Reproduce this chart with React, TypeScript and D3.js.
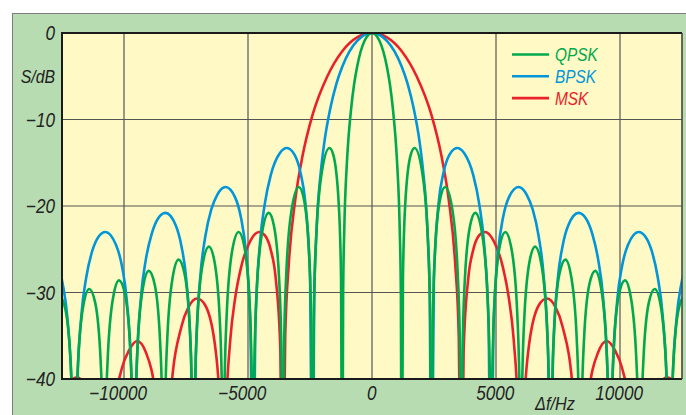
import React, { useRef, useEffect } from 'react';
import * as d3 from 'd3';

// spectra, positive half only (the chart is symmetric)
// [frequency offset in Hz, level in dB]; -60 marks a null far below the plot
const qpskHalf: [number, number][] = [
  [0, 0], [300, -0.9], [600, -3.9], [720, -5.9], [840, -8.7], [960, -12.6], [1020, -15.4], [1116, -22.5], [1164, -30.2], [1200, -60],
  [1248, -28.3], [1344, -19.6], [1560, -14.1], [1716, -13.3], [2040, -16.4], [2256, -24.1], [2352, -33.8], [2400, -60],
  [2448, -34.2], [2544, -25.2], [2760, -19.0], [2952, -17.8], [3240, -20.4], [3456, -27.8], [3552, -37.4], [3600, -60],
  [3648, -37.6], [3744, -28.5], [3960, -22.2], [4164, -20.8], [4440, -23.2], [4656, -30.4], [4752, -39.9], [4800, -60],
  [4848, -40.1], [4944, -30.9], [5160, -24.5], [5376, -23.0], [5640, -25.2], [5856, -32.4], [5952, -41.9], [6000, -60],
  [6048, -42.0], [6144, -32.8], [6360, -26.3], [6576, -24.7], [6840, -26.9], [7056, -34.0], [7152, -43.5], [7200, -60],
  [7248, -43.6], [7344, -34.4], [7560, -27.8], [7800, -26.2], [8040, -28.3], [8256, -35.4], [8352, -44.8], [8400, -60],
  [8448, -45.0], [8544, -35.7], [8760, -29.1], [9000, -27.5], [9240, -29.5], [9456, -36.6], [9552, -46.0], [9600, -60],
  [9648, -46.1], [9744, -36.8], [9960, -30.2], [10200, -28.6], [10440, -30.6], [10656, -37.6], [10752, -47.0], [10800, -60],
  [10848, -47.1], [10944, -37.8], [11160, -31.2], [11400, -29.6], [11640, -31.5], [11856, -38.5], [11952, -48.0], [12000, -60],
  [12048, -48.0], [12144, -38.7], [12360, -32.0], [12600, -30.4], [12840, -32.4],
];

const bpskHalf: [number, number][] = [
  [0, 0], [600, -0.9], [1200, -3.9], [1440, -5.9], [1680, -8.7], [1920, -12.6], [2040, -15.4], [2232, -22.5], [2328, -30.2], [2400, -60],
  [2496, -28.3], [2688, -19.6], [2880, -16.2], [3120, -14.1], [3432, -13.3], [3720, -13.9], [4080, -16.4], [4320, -19.7], [4512, -24.1], [4704, -33.8], [4800, -60],
  [4896, -34.2], [5088, -25.2], [5280, -21.4], [5520, -19.0], [5904, -17.8], [6240, -18.7], [6480, -20.4], [6720, -23.5], [6912, -27.8], [7104, -37.4], [7200, -60],
  [7296, -37.6], [7488, -28.5], [7680, -24.7], [7920, -22.2], [8328, -20.8], [8640, -21.5], [8880, -23.2], [9120, -26.2], [9312, -30.4], [9504, -39.9], [9600, -60],
  [9696, -40.1], [9888, -30.9], [10080, -27.0], [10320, -24.5], [10752, -23.0], [11040, -23.6], [11280, -25.2], [11520, -28.2], [11712, -32.4], [11904, -41.9], [12000, -60],
  [12096, -42.0], [12288, -32.8], [12480, -28.9], [12720, -26.3], [13152, -24.7],
];

const mskHalf: [number, number][] = [
  [0, 0], [600, -0.5], [1200, -2.1], [1800, -5.0], [2400, -9.5], [2800, -14.2], [3100, -19.4], [3350, -26.5], [3500, -35.2], [3600, -60],
  [3696, -36.6], [3888, -28.2], [4080, -25.1], [4320, -23.4], [4550, -23.0], [4900, -24.0], [5280, -27.1], [5520, -30.7], [5712, -35.4], [5904, -45.4], [6000, -60],
  [6096, -45.9], [6288, -37.1], [6720, -31.5], [7050, -30.7], [7400, -31.7], [7680, -33.9], [8112, -41.7], [8304, -51.5], [8400, -60],
  [8496, -51.9], [8688, -42.9], [9120, -36.9], [9470, -35.6], [9800, -36.7], [10080, -38.7], [10512, -46.3], [10700, -56.0], [10800, -60],
  [11300, -43.2], [11600, -40.6], [11900, -39.8], [12200, -40.5], [12500, -42.6], [12800, -47.0],
];

const seriesNames = ['QPSK', 'BPSK', 'MSK'];
const seriesData = [qpskHalf, bpskHalf, mskHalf];
const seriesColors = ['#00a84e', '#0096d9', '#e9212b'];

const xTicks = [-10000, -5000, 0, 5000, 10000];
const yTicks = [0, -10, -20, -30, -40];

const fmt = (d: number) => (d < 0 ? '\u2212' + Math.abs(d) : String(d));

// mirror the half spectrum and cut it into lobes at the nulls
function toLobes(half: [number, number][]) {
  const full = [...half.slice(1).map(([f, v]) => [-f, v] as [number, number]).reverse(), ...half];
  const lobes: [number, number][][] = [];
  let cur: [number, number][] = [];
  full.forEach(p => {
    cur.push(p);
    if (p[1] <= -60 && cur.length > 1) {
      lobes.push(cur);
      cur = [p];
    }
  });
  if (cur.length > 1) lobes.push(cur);
  return lobes;
}

export default function App() {
  const svgRef = useRef<SVGSVGElement>(null);

  useEffect(() => {
    const svg = d3.select(svgRef.current);
    svg.selectAll('*').remove();

    const left = 62, right = 682, top = 33, bottom = 379;
    const x = d3.scaleLinear().domain([-12500, 12500]).range([left, right]);
    const y = d3.scaleLinear().domain([-40, 0]).range([bottom, top]);
    const font = '"Liberation Sans", Arial, sans-serif';
    const squeeze = 0.88;

    // outer green panel
    svg.append('rect')
      .attr('x', 12.5).attr('y', 13.5).attr('width', 700).attr('height', 430)
      .attr('fill', '#b8dcb1').attr('stroke', '#7d7d7d').attr('stroke-width', 1);

    svg.append('rect')
      .attr('x', left).attr('y', top).attr('width', right - left).attr('height', bottom - top)
      .attr('fill', '#fffac5');

    svg.append('clipPath').attr('id', 'plot-clip')
      .append('rect')
      .attr('x', left).attr('y', top).attr('width', right - left).attr('height', bottom - top);

    // grid
    const grid = svg.append('g').attr('stroke', '#555').attr('stroke-width', 1.2);
    grid.selectAll('.vx')
      .data(xTicks)
      .join('line')
      .attr('x1', d => x(d)).attr('x2', d => x(d))
      .attr('y1', top).attr('y2', bottom);
    grid.selectAll('.hy')
      .data(yTicks.filter(d => d !== 0 && d !== -40))
      .join('line')
      .attr('x1', left).attr('x2', right)
      .attr('y1', d => y(d)).attr('y2', d => y(d));

    // curves, drawn MSK first so QPSK is on top
    const line = d3.line<[number, number]>()
      .x(d => x(d[0]))
      .y(d => y(d[1]))
      .curve(d3.curveMonotoneX);

    const curves = svg.append('g').attr('clip-path', 'url(#plot-clip)');
    [2, 1, 0].forEach(i => {
      curves.append('g')
        .selectAll('path')
        .data(toLobes(seriesData[i]))
        .join('path')
        .attr('d', d => line(d))
        .attr('fill', 'none')
        .attr('stroke', seriesColors[i])
        .attr('stroke-width', 2.6)
        .attr('stroke-linejoin', 'round');
    });

    // frame
    svg.append('line').attr('x1', left - 1).attr('x2', right).attr('y1', top).attr('y2', top)
      .attr('stroke', '#1a1a1a').attr('stroke-width', 2);
    svg.append('line').attr('x1', left).attr('x2', left).attr('y1', top).attr('y2', bottom)
      .attr('stroke', '#1a1a1a').attr('stroke-width', 2);
    svg.append('line').attr('x1', left - 1).attr('x2', right).attr('y1', bottom).attr('y2', bottom)
      .attr('stroke', '#1a1a1a').attr('stroke-width', 2);
    svg.append('line').attr('x1', right).attr('x2', right).attr('y1', top).attr('y2', bottom)
      .attr('stroke', '#444').attr('stroke-width', 1.6);

    const label = (g: any, tx: number, ty: number, text: string, size: number, anchor: string, color = '#222') =>
      g.append('text')
        .attr('transform', `translate(${tx},${ty}) scale(${squeeze},1)`)
        .attr('text-anchor', anchor)
        .attr('font-family', font)
        .attr('font-style', 'italic')
        .attr('font-size', size)
        .attr('fill', color)
        .text(text);

    // y tick labels
    yTicks.forEach(d => label(svg, 55, y(d) + 7, fmt(d), 19.5, 'end'));
    label(svg, 55, 83, 'S/dB', 18, 'end');

    // x tick labels, digits centred on the grid line
    xTicks.forEach(d => {
      const digits = String(Math.abs(d)).length;
      label(svg, x(d) + digits * 4.6, 400, fmt(d), 19.5, 'end');
    });
    label(svg, 535, 410, '\u0394f/Hz', 18.5, 'start');

    // legend
    const legend = svg.append('g');
    seriesNames.forEach((name, i) => {
      const ly = 54.5 + i * 21.8;
      legend.append('line')
        .attr('x1', 512).attr('x2', 549).attr('y1', ly).attr('y2', ly)
        .attr('stroke', seriesColors[i]).attr('stroke-width', 2.6);
      label(legend, 555, ly + 6.5, name, 17.5, 'start', seriesColors[i]);
    });
  }, []);

  return (
    <svg ref={svgRef} width={686} height={415} style={{ position: 'absolute', left: 0, top: 0 }} />
  );
}
